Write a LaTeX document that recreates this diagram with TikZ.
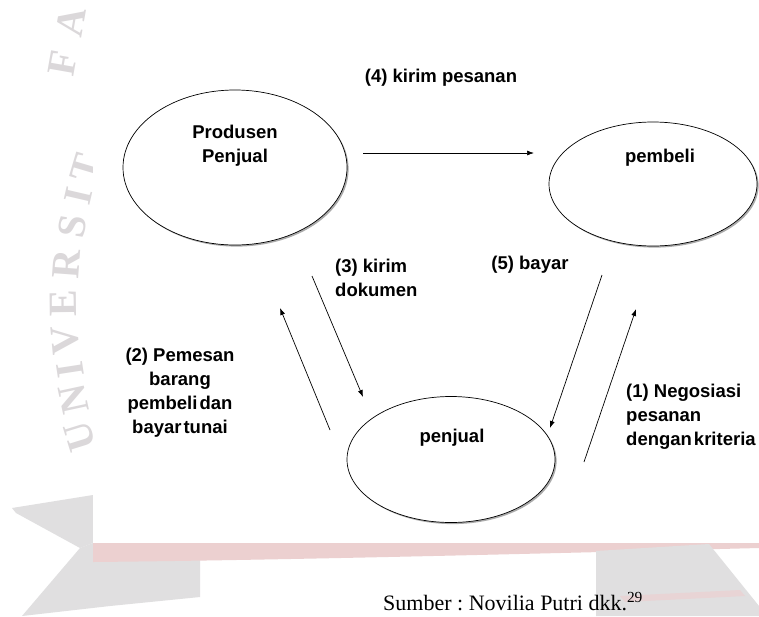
\documentclass[tikz,border=0pt]{standalone}
\usepackage{fontspec}
\setmainfont{Liberation Serif}
\newfontfamily\diagfont{Liberation Sans}
\usetikzlibrary{arrows.meta,shapes.geometric,shadows}
\frenchspacing

\definecolor{wmgray}{RGB}{224,223,224}
\definecolor{wmpink}{RGB}{236,208,208}
\definecolor{wmletter}{RGB}{219,216,218}

\begin{document}
\begin{tikzpicture}[x=1pt,y=-1pt,
  lbl/.style={font=\diagfont\bfseries\fontsize{18.5}{24}\selectfont, inner sep=0pt, align=center},
  actor/.style={ellipse, draw=black, line width=0.7pt, fill=white, inner sep=0pt,
    drop shadow={shadow xshift=1.6pt, shadow yshift=-1.6pt, fill=black!55, opacity=0.6}},
  flow/.style={-{Latex[length=7pt,width=5pt]}, line width=0.7pt},
  wm/.style={text=wmletter, font=\fontsize{40}{40}\selectfont\bfseries, inner sep=0pt},
]
\useasboundingbox (0,0) rectangle (759,616);
\fill[white] (0,0) rectangle (759,616);

% faint university logo in the background
\node[wm, rotate=80]    (wF) at (63,63)  {F};
\node[wm, rotate=80]    (wA) at (71,22)  {A};
\node[wm, rotate=73.5]  (w1) at (86,168) {T};
\node[wm, rotate=77]    (w2) at (78,196) {I};
\node[wm, rotate=80.5]  (w3) at (72,226) {S};
\node[wm, rotate=85.8]  (w4) at (66,264) {R};
\node[wm, rotate=90.6]  (w5) at (63,303) {E};
\node[wm, rotate=95.4]  (w6) at (65,340) {V};
\node[wm, rotate=98.7]  (w7) at (70,370) {I};
\node[wm, rotate=102.2] (w8) at (74,399) {N};
\node[wm, rotate=107.2] (w9) at (80,437) {U};
\fill[wmgray] (12,508) -- (93,495) -- (93,543) -- (80,548) -- (16,513) -- cycle;
\fill[wmgray] (80,548) -- (93,543) -- (200,545) -- (200,597) -- (110,606) -- (22,616) -- cycle;
\fill[wmpink] (93,541) -- (759,541) -- (759,548)
  .. controls (600,552) and (300,560) .. (93,562) -- cycle;
\fill[wmgray] (596,551) -- (709,544) -- (759,606) -- (759,616) -- (596,616) -- cycle;
\fill[wmpink!70!wmgray] (620,596) -- (740,590) -- (745,596) -- (625,602) -- cycle;

% white panel of the diagram
\fill[white] (93,8) rectangle (759,543);

% actors
\node[actor, minimum width=224pt, minimum height=155pt] (prod) at (235,167.5) {};
\node[actor, minimum width=208pt, minimum height=124pt] (beli) at (653,184) {};
\node[actor, minimum width=208pt, minimum height=126pt] (jual) at (451,459.5) {};

\node[lbl] (tprod) at (235,146) {Produsen\\Penjual};
\node[lbl] (tbeli) at (660,158) {pembeli};
\node[lbl] (tjual) at (452,438) {penjual};

% message flows
\coordinate (a4s) at (363,153);
\coordinate (a4e) at (534,153);
\coordinate (a2s) at (330,430);
\coordinate (a2e) at (280,308);
\coordinate (a3s) at (312,276);
\coordinate (a3e) at (363,397);
\coordinate (a5s) at (602,275);
\coordinate (a5e) at (550,428);
\coordinate (a1s) at (584,462);
\coordinate (a1e) at (636,309);

\draw[flow] (a4s) -- (a4e);
\draw[flow] (a2s) -- (a2e);
\draw[flow] (a3s) -- (a3e);
\draw[flow] (a5s) -- (a5e);
\draw[flow] (a1s) -- (a1e);

\node[lbl] (t4) at (441,78) {(4) kirim pesanan};
\node[lbl, align=left, anchor=west] (t3) at (335,277.5) {(3) kirim\\dokumen};
\node[lbl] (t5) at (530,265) {(5) bayar};
\node[lbl] (t2) at (180,392.5)
  {(2) Pemesan\\barang\\pembeli\hspace{2pt}dan\\bayar\hspace{2pt}tunai};
\node[lbl, align=left, anchor=north west] (t1) at (626,383.5)
  {(1) Negosiasi\\pesanan\\dengan\hspace{2pt}kriteria};

% source line
\node[font=\fontsize{22}{22}\selectfont, anchor=base west, inner sep=0pt] (src) at (383,610)
  {Sumber : Novilia Putri dkk.\textsuperscript{29}};
\end{tikzpicture}
\end{document}
